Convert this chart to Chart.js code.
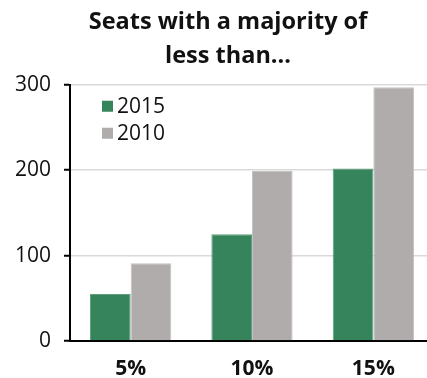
<!DOCTYPE html>
<html>
<head>
<meta charset="utf-8">
<script src="https://cdn.jsdelivr.net/npm/chart.js@4"></script>
<style>
  html, body { margin: 0; padding: 0; background: #fff; overflow: hidden; }
  #chart-container { width: 456px; height: 378px; }
</style>
</head>
<body>
<div id="chart-container"><canvas id="chart" width="456" height="378"></canvas></div>
<script>
const categories = ['5%', '10%', '15%']
const seriesLabels = ['2015', '2010']
const seats2015 = [55, 125, 202]
const seats2010 = [91, 199, 297]
const titleLines = ['Seats with a majority of', 'less than...']

const FONT = "'Open Sans', 'Noto Sans', sans-serif"

// legend drawn inside the plot, top-left, like the original
const insideLegend = {
  id: 'insideLegend',
  afterDraw (chart) {
    const ctx = chart.ctx
    const area = chart.chartArea
    ctx.save()
    ctx.font = `21px ${FONT}`
    ctx.textBaseline = 'middle'
    chart.data.datasets.forEach((ds, i) => {
      const x = area.left + 32
      const y = area.top + 16 + i * 27
      ctx.fillStyle = ds.backgroundColor
      ctx.fillRect(x, y, 11, 11)
      ctx.fillStyle = '#111'
      ctx.fillText(ds.label, x + 15, y + 6)
    })
    ctx.restore()
  }
}

new Chart(document.getElementById('chart'), {
  type: 'bar',
  data: {
    labels: categories,
    datasets: [{
      label: seriesLabels[0],
      data: seats2015,
      backgroundColor: '#35845b',
      borderColor: '#5f9f7d',
      borderWidth: 1,
      borderSkipped: 'bottom'
    }, {
      label: seriesLabels[1],
      data: seats2010,
      backgroundColor: '#afacab',
      borderColor: '#c4c2c1',
      borderWidth: 1,
      borderSkipped: 'bottom'
    }]
  },
  options: {
    responsive: false,
    animation: false,
    datasets: {
      bar: { categoryPercentage: 0.67, barPercentage: 1.0 }
    },
    plugins: {
      legend: { display: false },
      tooltip: { enabled: false },
      title: {
        display: true,
        text: titleLines,
        color: '#111',
        font: { family: FONT, size: 23.5, weight: 'bold', lineHeight: 1.42 },
        padding: { top: 6, bottom: 12 }
      }
    },
    scales: {
      x: {
        afterFit (scale) { scale.height = 37 },
        grid: { display: false, drawTicks: false },
        border: { color: '#000', width: 2 },
        ticks: {
          color: '#111',
          padding: 15,
          font: { family: FONT, size: 21, weight: 'bold' }
        }
      },
      y: {
        min: 0,
        max: 300,
        afterFit (scale) { scale.width = 70 },
        ticks: {
          stepSize: 100,
          color: '#111',
          padding: 13,
          font: { family: FONT, size: 21 }
        },
        grid: {
          color: '#d9d9d9',
          lineWidth: 1.5,
          tickColor: '#000',
          tickLength: 6,
          tickWidth: 2
        },
        border: { color: '#000', width: 2 }
      },
      // empty right-hand axis, only reserves the space to the right of the plot
      yRight: {
        position: 'right',
        afterFit (scale) { scale.width = 22 },
        grid: { display: false, drawTicks: false },
        border: { display: false },
        ticks: { display: false }
      }
    }
  },
  plugins: [insideLegend]
})
</script>
</body>
</html>
